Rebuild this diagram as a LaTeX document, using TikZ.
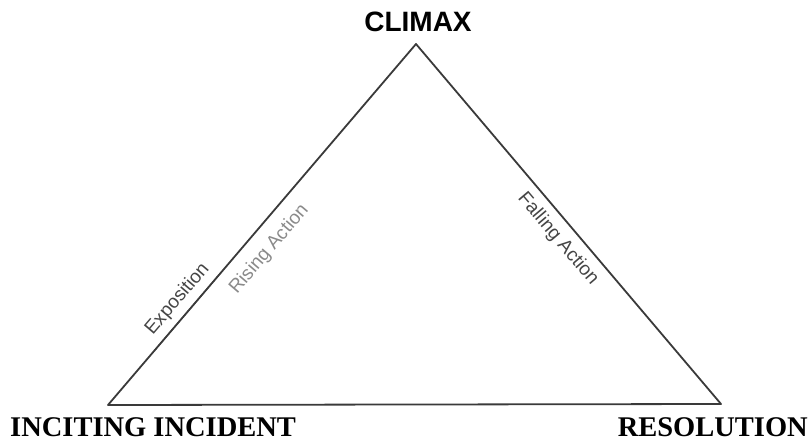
\documentclass[tikz,border=0pt]{standalone}
\usepackage{fontspec}
\setmainfont{Liberation Serif}
\setsansfont{Liberation Sans}
\usetikzlibrary{positioning,calc}
\definecolor{plotline}{HTML}{3A3A3A}
\definecolor{plotdark}{HTML}{454545}
\definecolor{plotlight}{HTML}{8A8A8A}

\begin{document}
\begin{tikzpicture}[
  x=1pt, y=-1pt,
  edge/.style={draw=plotline, line width=1.8pt, line join=round},
  phase/.style={font=\sffamily\fontsize{19}{19}\selectfont, inner sep=1pt},
  peaklbl/.style={font=\sffamily\bfseries\fontsize{28}{28}\selectfont, inner sep=0pt},
  endlbl/.style={font=\bfseries\fontsize{28.5}{28.5}\selectfont, inner sep=0pt},
]
\useasboundingbox (0,0) rectangle (811,441);

% Corners of the plot triangle (pixel units, y downwards)
\coordinate (inc) at (108,405);
\coordinate (cli) at (416,44);
\coordinate (res) at (721,404);

% Triangle with the phase names along its sides
\draw[edge] (inc)
  -- node[phase, sloped, above=5pt, pos=0.265, text=plotdark] {Exposition}
     node[phase, sloped, below=11pt, pos=0.47, text=plotlight] {Rising Action}
  (cli)
  -- node[phase, sloped, below=7pt, pos=0.51, text=plotdark] {Falling Action}
  (res) -- cycle;
% second stroke under the exposition part
\draw[draw=plotline, line width=1.1pt, xshift=3pt]
  ($(inc)!0.15!(cli)$) -- ($(inc)!0.37!(cli)$);

% Point labels
\node[peaklbl] (climax) at (418,22) {CLIMAX};
\node[endlbl, anchor=west] (inciting) at (10,427) {INCITING INCIDENT};
\node[endlbl, anchor=east] (resolution) at (808,427) {RESOLUTION};
\end{tikzpicture}
\end{document}
